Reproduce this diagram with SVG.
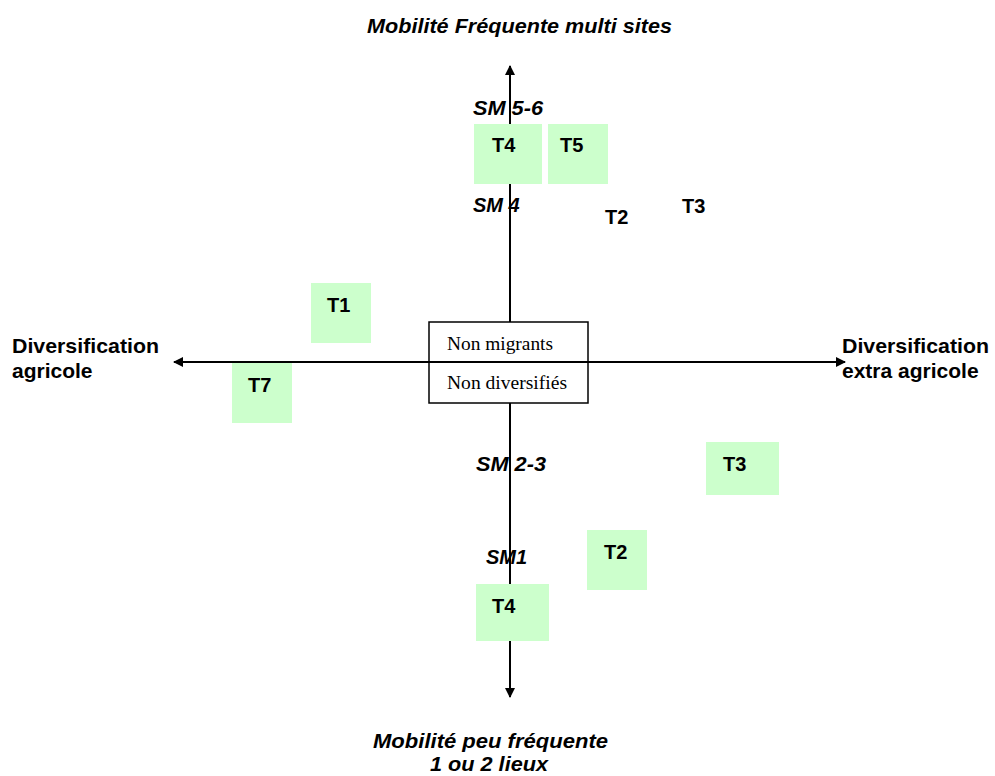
<svg xmlns="http://www.w3.org/2000/svg" width="995" height="776" viewBox="0 0 995 776">
<defs>
<marker id="arr" markerWidth="10" markerHeight="10" refX="9" refY="5" orient="auto" markerUnits="userSpaceOnUse">
<path d="M0,0 L10,5 L0,10 Z" fill="#000"/>
</marker>
</defs>
<style>
.ax{stroke:#000;stroke-width:2;fill:none}
.g{fill:#ccffcc}
.t{font-family:"Liberation Sans",Arial,sans-serif;font-weight:bold;font-size:20px;fill:#000}
.sm{font-family:"Liberation Sans",Arial,sans-serif;font-weight:bold;font-style:italic;font-size:20px;fill:#000}
.lab{font-family:"Liberation Sans",Arial,sans-serif;font-weight:bold;font-size:21px;fill:#000}
.serif{font-family:"Liberation Serif","Times New Roman",serif;font-size:19px;fill:#000}
</style>
<rect width="995" height="776" fill="#fff"/>
<g id="connectors">
<line class="ax" x1="510" y1="690" x2="510" y2="66" marker-end="url(#arr)"/>
<line class="ax" x1="510" y1="100" x2="510" y2="697" marker-end="url(#arr)"/>
<line class="ax" x1="500" y1="362" x2="174" y2="362" marker-end="url(#arr)"/>
<line class="ax" x1="500" y1="362" x2="845" y2="362" marker-end="url(#arr)"/>
</g>
<g id="center">
<rect x="429" y="322" width="159" height="81" fill="#fff" stroke="#000" stroke-width="1.5"/>
<line x1="429" y1="362" x2="588" y2="362" stroke="#000" stroke-width="2"/>
<text class="serif" x="447" y="350" textLength="106" lengthAdjust="spacingAndGlyphs">Non migrants</text>
<text class="serif" x="447" y="389" textLength="120" lengthAdjust="spacingAndGlyphs">Non diversifiés</text>
</g>
<g id="T4top"><rect class="g" x="474" y="124" width="68" height="60"/><text class="t" x="492" y="152">T4</text></g>
<g id="T5"><rect class="g" x="548" y="124" width="60" height="60"/><text class="t" x="560" y="152">T5</text></g>
<g id="T1"><rect class="g" x="311" y="283" width="60" height="60"/><text class="t" x="327" y="312">T1</text></g>
<g id="T7"><rect class="g" x="232" y="363" width="60" height="60"/><text class="t" x="248" y="392">T7</text></g>
<g id="T3low"><rect class="g" x="706" y="442" width="73" height="53"/><text class="t" x="723" y="471">T3</text></g>
<g id="T2low"><rect class="g" x="587" y="530" width="60" height="60"/><text class="t" x="604" y="559">T2</text></g>
<g id="T4low"><rect class="g" x="476" y="584" width="73" height="57"/><text class="t" x="492" y="613">T4</text></g>
<g id="T2top"><text class="t" x="605" y="224">T2</text></g>
<g id="T3top"><text class="t" x="682" y="213">T3</text></g>
<g id="sm-labels">
<text class="sm" x="473" y="115" textLength="70" lengthAdjust="spacingAndGlyphs">SM 5-6</text>
<text class="sm" x="473" y="212">SM 4</text>
<text class="sm" x="476" y="471" textLength="70" lengthAdjust="spacingAndGlyphs">SM 2-3</text>
<text class="sm" x="486" y="564">SM1</text>
</g>
<g id="axis-labels">
<text class="lab" x="12" y="353" textLength="147" lengthAdjust="spacingAndGlyphs">Diversification</text>
<text class="lab" x="12" y="378">agricole</text>
<text class="lab" x="842" y="353" textLength="147" lengthAdjust="spacingAndGlyphs">Diversification</text>
<text class="lab" x="842" y="378">extra agricole</text>
<text class="sm" x="367" y="33" textLength="305" lengthAdjust="spacingAndGlyphs">Mobilité Fréquente multi sites</text>
<text class="sm" x="373" y="748" textLength="235" lengthAdjust="spacingAndGlyphs">Mobilité peu fréquente</text>
<text class="sm" x="430" y="771" textLength="118" lengthAdjust="spacingAndGlyphs">1 ou 2 lieux</text>
</g>
</svg>
